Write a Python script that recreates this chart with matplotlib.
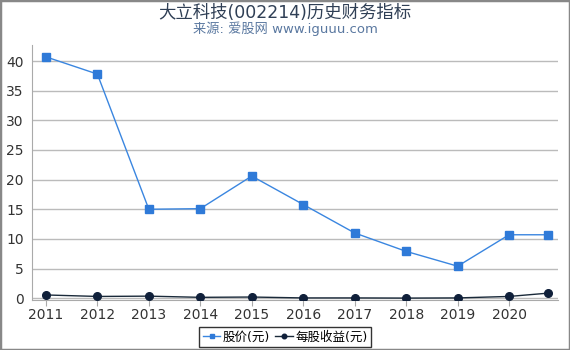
import matplotlib
matplotlib.use("Agg")
import matplotlib.pyplot as plt
from matplotlib.patches import Rectangle

plt.rcParams['font.family'] = ['DejaVu Sans', 'Noto Sans CJK SC']

x_pos = [2011, 2012, 2013, 2014, 2015, 2016, 2017, 2018, 2019, 2020, 2020.75]
tick_years = [2011, 2012, 2013, 2014, 2015, 2016, 2017, 2018, 2019, 2020]
price = [40.7, 37.8, 15.0, 15.1, 20.6, 15.8, 11.0, 7.9, 5.4, 10.7, 10.7]
eps = [0.55, 0.3, 0.35, 0.15, 0.2, 0.05, 0.05, 0.02, 0.05, 0.3, 0.85]
yticks = [0, 5, 10, 15, 20, 25, 30, 35, 40]

W, H = 570, 350
fig = plt.figure(figsize=(W/100, H/100), dpi=100)
ax = fig.add_axes([32/W, 1-300/H, (558-32)/W, (300-45)/H])

ax.plot(x_pos, price, color='#3a86e0', lw=1, marker='s', ms=6,
        markerfacecolor='#2f7ad8', markeredgecolor='#2f7ad8', label='股价(元)', zorder=3)
ax.plot(x_pos, eps, color='#1a2a3a', lw=1, marker='o', ms=5.5,
        markerfacecolor='#10203a', markeredgecolor='#10203a', label='每股收益(元)', zorder=3)

ax.set_xlim(2010.73, 2020.95)
ax.set_ylim(-0.3, 42.7)
ax.set_xticks(tick_years)
ax.set_xticklabels([str(y) for y in tick_years])
ax.set_yticks(yticks)
ax.grid(axis='y', color='#bbbbbb', lw=1)
ax.set_axisbelow(True)
for s in ['top', 'right']:
    ax.spines[s].set_visible(False)
ax.spines['left'].set_color('#aaaaaa')
ax.spines['bottom'].set_color('#aaaaaa')
ax.tick_params(axis='y', length=0, labelsize=10, colors='#333333', pad=6)
ax.tick_params(axis='x', length=4, color='#aaaaaa', labelsize=10, colors='#333333', pad=2)

fig.text(0.5, 1-13/H, '大立科技(002214)历史财务指标', ha='center', va='center',
         fontsize=12.5, color='#2f3f55')
fig.text(0.5, 1-29/H, '来源: 爱股网 www.iguuu.com', ha='center', va='center',
         fontsize=9.5, color='#5a78a0')

leg = fig.legend(loc='center', bbox_to_anchor=(285/W, 1-337/H), ncol=2, fontsize=9,
                 frameon=True, fancybox=False, edgecolor='black', handlelength=1.4,
                 handletextpad=0.2, columnspacing=0.4, borderpad=0.3, markerscale=0.6)
leg.get_frame().set_linewidth(1)

fig.add_artist(Rectangle((0, 0), 1, 1, transform=fig.transFigure, fill=False,
                         edgecolor='#888888', lw=2.5))

fig.savefig('out.png', dpi=100)
